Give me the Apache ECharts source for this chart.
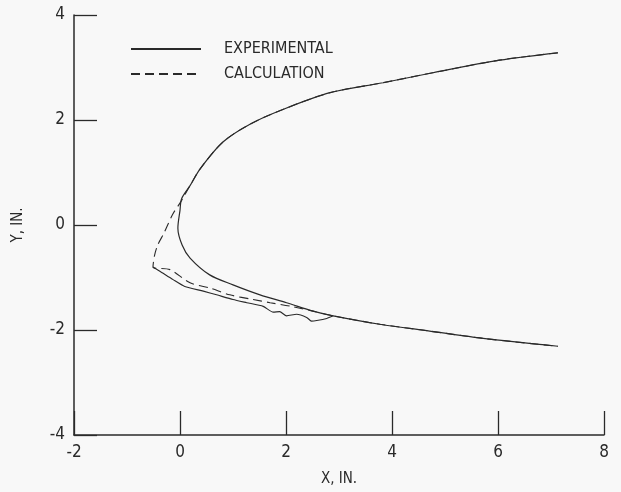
<!DOCTYPE html>
<html>
<head>
<meta charset="utf-8">
<script src="https://cdn.jsdelivr.net/npm/echarts@6/dist/echarts.min.js"></script>
<style>
html,body{margin:0;padding:0;background:#f8f8f8;}
#chart{width:621px;height:492px;}
</style>
</head>
<body>
<div id="chart"></div>
<script>
// Data (inches)
var xTicks = [-2, 0, 2, 4, 6, 8];
var yTicks = [-4, -2, 0, 2, 4];

// Experimental: upper branch, inner fold near the nose, lower branch
var expMain = [
  [7.13, 3.28], [6.03, 3.14], [4.77, 2.90], [3.83, 2.71], [2.83, 2.52],
  [1.94, 2.20], [1.32, 1.92], [0.81, 1.58], [0.38, 1.07], [0.19, 0.75],
  [0.03, 0.50], [0.00, 0.28], [-0.04, -0.06], [0.04, -0.38], [0.19, -0.63],
  [0.56, -0.95], [1.00, -1.14], [1.51, -1.33], [2.01, -1.48], [2.51, -1.64],
  [2.89, -1.73], [3.77, -1.89], [4.71, -2.02], [5.72, -2.16], [7.13, -2.31]
];
// Experimental: wavy lower trace from the leading edge
var expLower = [
  [-0.51, -0.80], [-0.38, -0.88], [-0.13, -1.04], [0.09, -1.17], [0.44, -1.26],
  [0.69, -1.33], [1.00, -1.42], [1.26, -1.48], [1.57, -1.55], [1.76, -1.66],
  [1.88, -1.65], [2.01, -1.73], [2.20, -1.70], [2.39, -1.76], [2.48, -1.83],
  [2.58, -1.82], [2.77, -1.78], [2.89, -1.73]
];
// Calculation
var calc = [
  [7.13, 3.28], [6.03, 3.14], [4.77, 2.90], [3.83, 2.71], [2.83, 2.52],
  [1.94, 2.20], [1.32, 1.92], [0.81, 1.58], [0.38, 1.07], [0.19, 0.75],
  [0.02, 0.45], [-0.14, 0.20], [-0.30, -0.15], [-0.42, -0.38], [-0.48, -0.58],
  [-0.51, -0.80], [-0.19, -0.85], [0.19, -1.10], [0.56, -1.20], [0.94, -1.33],
  [1.38, -1.42], [1.70, -1.48], [2.10, -1.55], [2.51, -1.64], [2.89, -1.73],
  [3.77, -1.89], [4.71, -2.02], [5.72, -2.16], [7.13, -2.31]
];

var FONT = "'DejaVu Sans Condensed', 'Liberation Sans Narrow', 'Noto Sans', sans-serif";
var INK = '#2a2a2a';

var chart = echarts.init(document.getElementById('chart'), null, {renderer: 'canvas'});
chart.setOption({
  backgroundColor: '#f8f8f8',
  animation: false,
  grid: {left: 74, right: 17, top: 15, bottom: 54, containLabel: false},
  legend: {
    orient: 'vertical',
    left: 130,
    top: 41,
    padding: 0,
    itemWidth: 70,
    itemHeight: 14,
    itemGap: 9,
    data: ['EXPERIMENTAL', 'CALCULATION'],
    itemStyle: {opacity: 0},
    textStyle: {fontFamily: FONT, fontSize: 16, color: INK, padding: [0, 0, 0, 18]}
  },
  xAxis: {
    type: 'value', min: -2, max: 8, interval: 2,
    name: 'X, IN.', nameLocation: 'middle', nameGap: 37,
    nameTextStyle: {fontFamily: FONT, fontSize: 15, color: INK},
    axisLine: {onZero: false, lineStyle: {color: INK, width: 1.5}},
    axisTick: {inside: true, length: 24, lineStyle: {color: INK, width: 1.3}},
    axisLabel: {fontFamily: FONT, fontSize: 17, color: INK, margin: 9,
      formatter: function (v) { return xTicks.indexOf(v) >= 0 ? String(v) : ''; }},
    splitLine: {show: false}
  },
  yAxis: {
    type: 'value', min: -4, max: 4, interval: 2,
    name: 'Y, IN.', nameLocation: 'middle', nameGap: 48,
    nameTextStyle: {fontFamily: FONT, fontSize: 15, color: INK},
    axisLine: {onZero: false, lineStyle: {color: INK, width: 1.5}},
    axisTick: {inside: true, length: 23, lineStyle: {color: INK, width: 1.3}},
    axisLabel: {fontFamily: FONT, fontSize: 17, color: INK, margin: 9,
      formatter: function (v) { return yTicks.indexOf(v) >= 0 ? String(v) : ''; }},
    splitLine: {show: false}
  },
  series: [
    {name: 'EXPERIMENTAL', type: 'line', data: expMain, showSymbol: false, symbol: 'none',
      smooth: 0.3, lineStyle: {color: INK, width: 1.2, type: 'solid'}, itemStyle: {color: INK}},
    {name: 'EXPERIMENTAL', type: 'line', data: expLower, showSymbol: false, symbol: 'none',
      smooth: 0.2, lineStyle: {color: INK, width: 1.1, type: 'solid'}, itemStyle: {color: INK}},
    {name: 'CALCULATION', type: 'line', data: calc, showSymbol: false, symbol: 'none',
      smooth: 0.3, lineStyle: {color: INK, width: 1.1, type: [9, 5]}, itemStyle: {color: INK}}
  ]
});
</script>
</body>
</html>
